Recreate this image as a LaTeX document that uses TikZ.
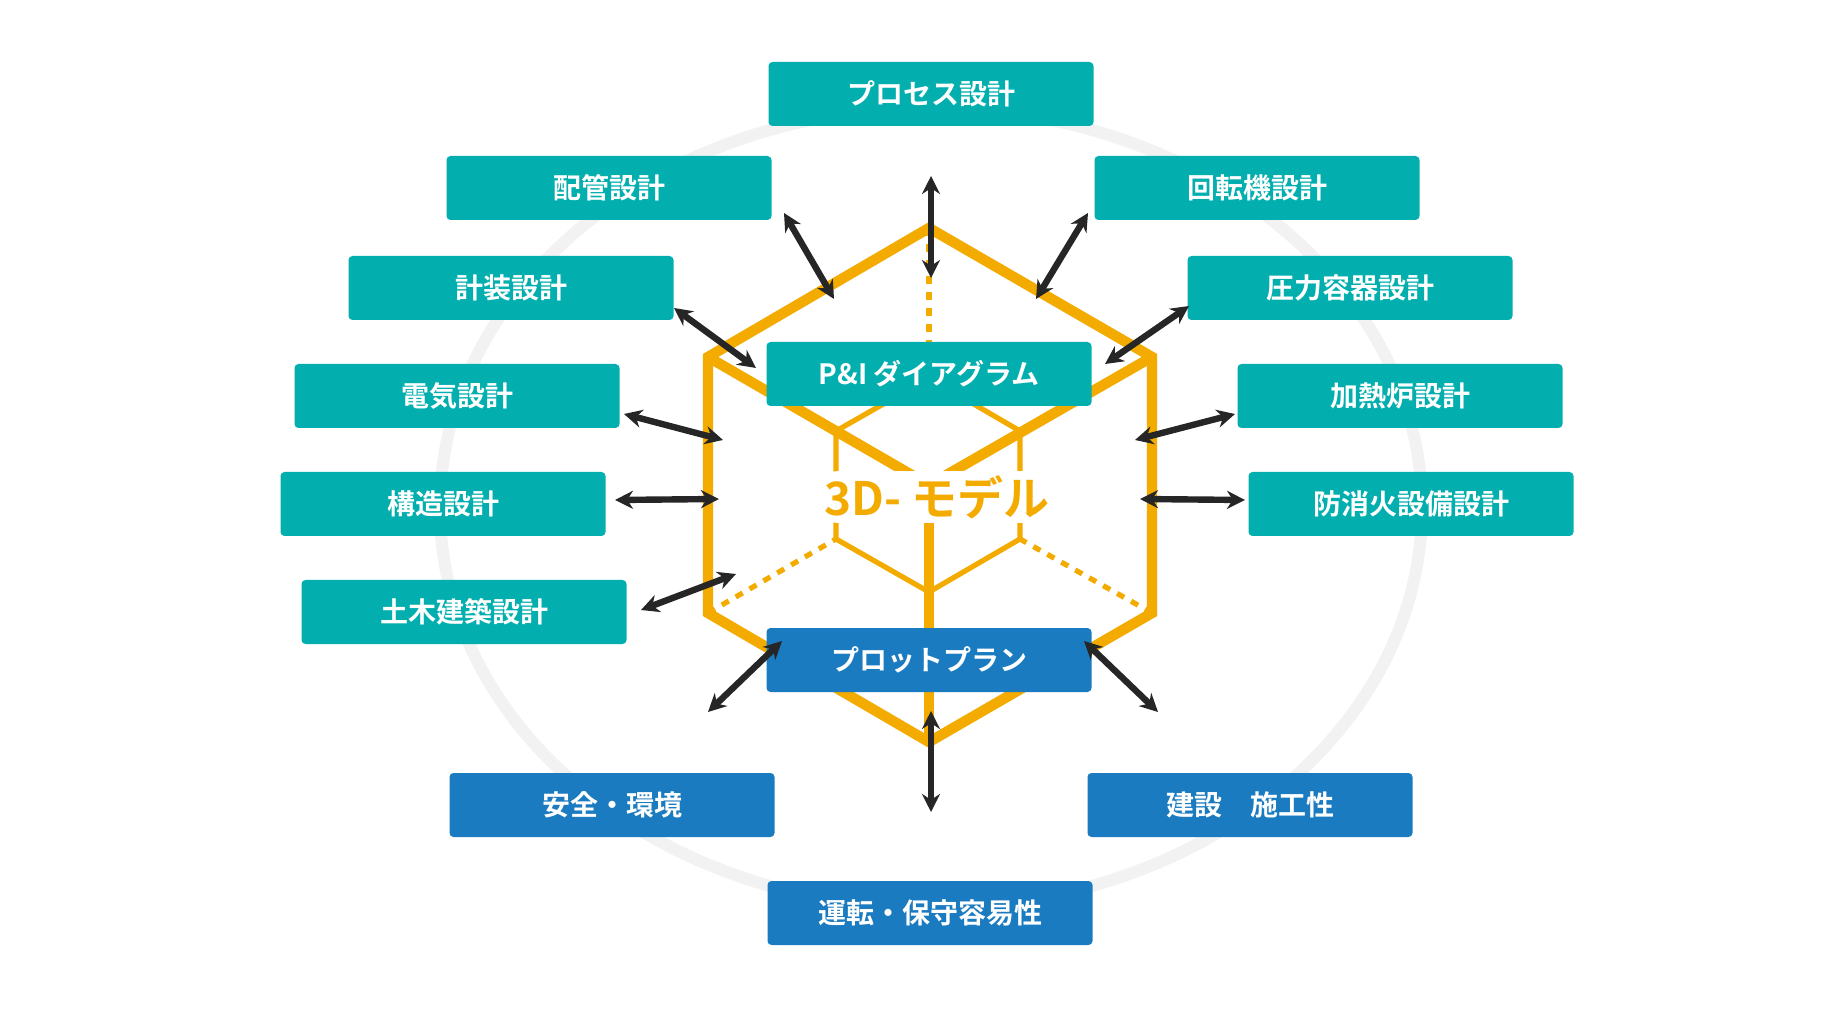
\documentclass[tikz,border=0pt]{standalone}
\usepackage{fontspec}
\setmainfont{Noto Sans CJK JP}[BoldFont={* Bold}]
\usetikzlibrary{arrows.meta}
\definecolor{teal}{HTML}{03AFAE}
\definecolor{bluebox}{HTML}{1A7BC0}
\definecolor{hexo}{HTML}{F4AB00}
\definecolor{arr}{HTML}{262626}
\definecolor{ring}{HTML}{F2F2F2}
\tikzset{
  box/.style={fill=teal, text=white, minimum width=162.5pt, minimum height=32pt, rounded corners=2pt, inner sep=0pt, font=\bfseries\fontsize{14}{16}\selectfont},
  bbox/.style={box, fill=bluebox},
  hexthick/.style={draw=hexo, line width=5.2pt, line join=miter},
  hexthin/.style={draw=hexo, line width=2.6pt},
  hexdot/.style={draw=hexo, line width=2.6pt, dash pattern=on 4pt off 4pt},
  dbl/.style={draw=arr, line width=3.2pt, {Stealth[length=9pt,width=9pt]}-{Stealth[length=9pt,width=9pt]}, shorten <=0pt, shorten >=0pt},
}
\begin{document}
\begin{tikzpicture}[x=0.5pt,y=-0.5pt]
\useasboundingbox (0,0) rectangle (1840,1020);
\fill[white] (0,0) rectangle (1840,1020);
% ring
\draw[ring, line width=6pt] (931,508) ellipse [x radius=491, y radius=400];
% hexagon coordinates
\coordinate (T) at (929,228); \coordinate (UL) at (708,357); \coordinate (LL) at (708,613);
\coordinate (B) at (929,742); \coordinate (UR) at (1152,357); \coordinate (LR) at (1152,613);
\coordinate (C) at (929,485);
\coordinate (iT) at (929,378); \coordinate (iUL) at (836,431); \coordinate (iLL) at (836,539);
\coordinate (iB) at (929,592); \coordinate (iUR) at (1020,431); \coordinate (iLR) at (1020,539);
% inner cube
\draw[hexthin] (iT) -- (iUL) -- (iLL) -- (iB) -- (iLR) -- (iUR) -- cycle;
\draw[hexdot] (T) -- (iT);
\draw[hexdot] (LL) -- (iLL);
\draw[hexdot] (LR) -- (iLR);
% outer cube
\draw[hexthick] (T) -- (UL) -- (LL) -- (B) -- (LR) -- (UR) -- cycle;
\draw[hexthick] (UL) -- (C) -- (UR);
\draw[hexthick] (C) -- (B);
% model label
\node[fill=white, text=hexo, inner sep=2pt, rounded corners=8pt, font=\bfseries\fontsize{23}{26}\selectfont] (model) at (937,497) {3D- モデル};
% boxes
\node[box] (pid) at (929,374) {P\&I ダイアグラム};
\node[bbox] (plot) at (929,660) {プロットプラン};
\node[box] (proc) at (931,94) {プロセス設計};
\node[box] (pipe) at (609,188) {配管設計};
\node[box] (rot) at (1257,188) {回転機設計};
\node[box] (inst) at (511,288) {計装設計};
\node[box] (pres) at (1350,288) {圧力容器設計};
\node[box] (elec) at (457,396) {電気設計};
\node[box] (furn) at (1400,396) {加熱炉設計};
\node[box] (str) at (443,504) {構造設計};
\node[box] (fire) at (1411,504) {防消火設備設計};
\node[box] (civ) at (464,612) {土木建築設計};
\node[bbox] (safe) at (612,805) {安全・環境};
\node[bbox] (cons) at (1250,805) {建設\hspace{1em}施工性};
\node[bbox] (oper) at (930,913) {運転・保守容易性};
% arrows
\coordinate (a1) at (931,176); \coordinate (b1) at (931,278);
\coordinate (a2) at (784,213); \coordinate (b2) at (834,299);
\coordinate (a3) at (1088,213); \coordinate (b3) at (1036,299);
\coordinate (a4) at (674,308); \coordinate (b4) at (756,368);
\coordinate (a5) at (1189,306); \coordinate (b5) at (1105,364);
\coordinate (a6) at (624,414); \coordinate (b6) at (723,440);
\coordinate (a7) at (1235,414); \coordinate (b7) at (1135,440);
\coordinate (a8) at (615,500); \coordinate (b8) at (719,499);
\coordinate (a9) at (1245,500); \coordinate (b9) at (1140,499);
\coordinate (a10) at (641,610); \coordinate (b10) at (736,574);
\coordinate (a11) at (708,712); \coordinate (b11) at (782,641);
\coordinate (a12) at (1158,712); \coordinate (b12) at (1084,641);
\coordinate (a13) at (931,711); \coordinate (b13) at (931,812);
\foreach \i in {1,...,13} {\draw[dbl] (a\i) -- (b\i);}
\end{tikzpicture}
\end{document}
